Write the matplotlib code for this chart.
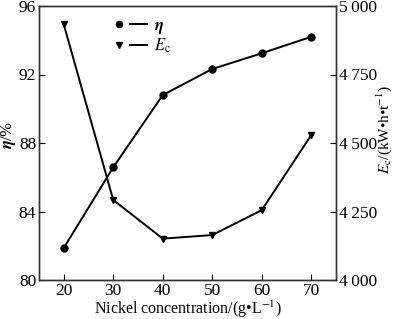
import matplotlib
matplotlib.use("Agg")
import matplotlib.pyplot as plt
from matplotlib.lines import Line2D
from matplotlib.legend_handler import HandlerTuple

plt.rcParams['font.family'] = ['Liberation Serif', 'DejaVu Serif']
plt.rcParams['mathtext.fontset'] = 'stix'

nickel = [20, 30, 40, 50, 60, 70]
eta = [81.87, 86.58, 90.8, 92.32, 93.24, 94.2]
ec = [4933, 4292, 4151, 4164, 4255, 4529]
x_ticks = [20, 30, 40, 50, 60, 70]
eta_ticks = [80, 84, 88, 92, 96]
ec_ticks = [4000, 4250, 4500, 4750, 5000]
ec_tick_labels = ['4\u2009000', '4\u2009250', '4\u2009500', '4\u2009750', '5\u2009000']

fig = plt.figure(figsize=(3.95, 3.19), dpi=100)
ax = fig.add_axes([39/395, 1-280/319, (336-39)/395, (280-6)/319])
ax2 = ax.twinx()

l1, = ax.plot(nickel, eta, color='black', marker='o', markersize=5, linewidth=1.4)
l2, = ax2.plot(nickel, ec, color='black', marker='v', markersize=5, linewidth=1.4)

ax.set_xlim(15, 75)
ax.set_ylim(80, 96)
ax2.set_ylim(4000, 5000)
ax.set_xticks(x_ticks)
ax.set_yticks(eta_ticks)
ax2.set_yticks(ec_ticks)
ax2.set_yticklabels(ec_tick_labels)

for a in (ax, ax2):
    a.tick_params(direction='in', labelsize=12.5, length=4, width=0.8, pad=2)
    for s in a.spines.values():
        s.set_linewidth(1.0)
        s.set_color('#333333')

ax.set_xlabel('Nickel concentration/(g\u2022L$^{-1}$)', fontsize=11.5, labelpad=0)
ax.set_ylabel(r'$\boldsymbol{\eta}$/%', fontsize=12)
ax.yaxis.set_label_coords(-0.07, 0.53)
ax2.set_ylabel('$E_{\\mathrm{c}}$/(kW\u2022h\u2022t$^{-1}$)', fontsize=11)
ax2.yaxis.set_label_coords(1.128, 0.55)

m1 = Line2D([], [], color='black', marker='o', markersize=4.5, linestyle='none')
s1 = Line2D([], [], color='black', linewidth=1.4)
m2 = Line2D([], [], color='black', marker='v', markersize=4.5, linestyle='none')
s2 = Line2D([], [], color='black', linewidth=1.4)

leg = ax.legend([(m1, s1), (m2, s2)], [r'$\boldsymbol{\eta}$', r'$E_{\mathrm{c}}$'],
                handler_map={tuple: HandlerTuple(ndivide=2, pad=0.2)},
                loc='upper left', bbox_to_anchor=(0.19, 1.01), frameon=False,
                fontsize=12, handlelength=2.2, labelspacing=0.02,
                handletextpad=0.4)

fig.savefig('out.png', dpi=100)
